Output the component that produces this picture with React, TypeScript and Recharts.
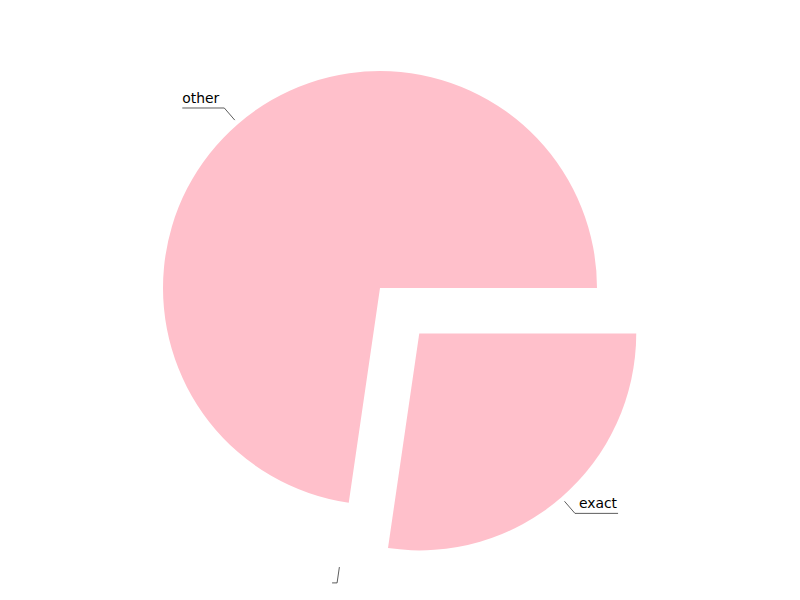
import React from 'react';
import { PieChart, Pie, Cell } from 'recharts';

// ---- data ----
const categories: string[] = ['exact', '', 'other'];
const values: number[] = [27.3, 0, 72.7];

const data = categories.map((name, i) => ({ name, value: values[i] }));

// ---- styling ----
const PINK = '#ffc0cb';
const EXPLODE: Record<string, number> = { exact: 60, '': 60 };
const RAD = Math.PI / 180;
const FONT = '"DejaVu Sans", sans-serif';
const FONT_SIZE = 13.9;

const total = values.reduce((a, b) => a + b, 0);
const midAngleOf = (i: number) => {
  let acc = 0;
  for (let j = 0; j < i; j++) acc += values[j];
  return -((acc + values[i] / 2) / total) * 360;
};

let ctx: CanvasRenderingContext2D | null = null;
const measure = (s: string) => {
  if (!s) return 0;
  if (!ctx) {
    const c = document.createElement('canvas');
    ctx = c.getContext('2d');
  }
  if (!ctx) return s.length * 7.5;
  ctx.font = `${FONT_SIZE}px "DejaVu Sans"`;
  return ctx.measureText(s).width;
};

const renderLabel = (props: any) => {
  const { cx, cy, midAngle, outerRadius, name, index } = props;
  const off = EXPLODE[name] ?? 0;
  const c = Math.cos(-midAngle * RAD);
  const s = Math.sin(-midAngle * RAD);
  const ox = cx + off * c;
  const oy = cy + off * s;
  const r1 = outerRadius + 5;
  const r2 = outerRadius + 21;
  const x1 = ox + r1 * c;
  const y1 = oy + r1 * s;
  const x2 = ox + r2 * c;
  const y2 = oy + r2 * s;
  const dir = c >= 0 ? 1 : -1;
  const w = measure(name) + 5;
  const x3 = x2 + dir * w;
  return (
    <g key={`lbl-${index}`}>
      <polyline
        points={`${x1},${y1} ${x2},${y2} ${x3},${y2}`}
        fill="none"
        stroke="#333"
        strokeWidth={0.8}
      />
      <text
        x={dir > 0 ? x3 - 1 : x3}
        y={y2 - 5}
        textAnchor={dir > 0 ? 'end' : 'start'}
        fontFamily={FONT}
        fontSize={FONT_SIZE}
        fill="#000"
      >
        {name}
      </text>
    </g>
  );
};

export default function App() {
  return (
    <div style={{ position: 'absolute', left: 0, top: 0, width: 800, height: 600, background: '#fff' }}>
      <PieChart width={800} height={600} margin={{ top: 0, right: 0, bottom: 0, left: 0 }}>
        <Pie
          data={data}
          dataKey="value"
          nameKey="name"
          cx={380}
          cy={288}
          outerRadius={217}
          startAngle={0}
          endAngle={-360}
          stroke="none"
          isAnimationActive={false}
          label={renderLabel}
          labelLine={false}
        >
          {data.map((d, i) => {
            const off = EXPLODE[d.name] ?? 0;
            const m = midAngleOf(i);
            const dx = off * Math.cos(-m * RAD);
            const dy = off * Math.sin(-m * RAD);
            return (
              <Cell
                key={`cell-${i}`}
                fill={PINK}
                stroke="none"
                transform={`translate(${dx},${dy})`}
              />
            );
          })}
        </Pie>
      </PieChart>
    </div>
  );
}
